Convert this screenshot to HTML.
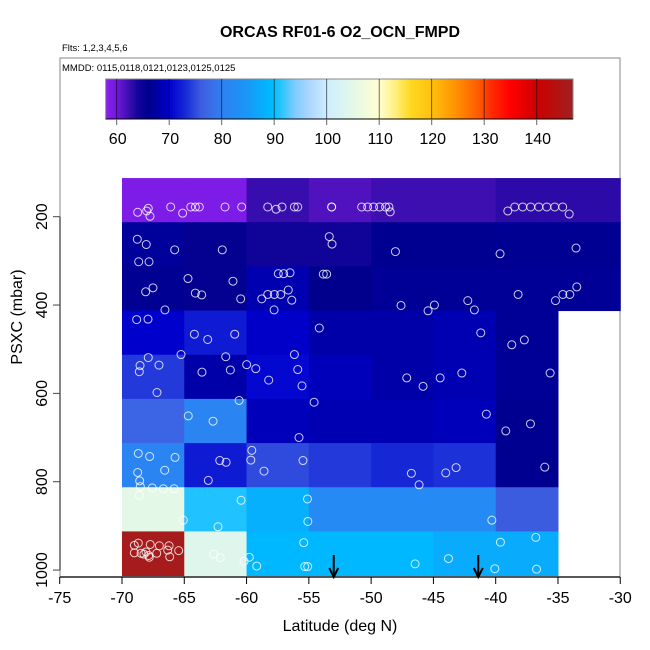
<!DOCTYPE html>
<html><head><meta charset="utf-8">
<style>
html,body{margin:0;padding:0;background:#fff;}
svg{display:block;font-family:"Liberation Sans",sans-serif;}
</style></head>
<body>
<svg id="chart" width="650" height="650" viewBox="0 0 650 650">
  <text x="340" y="37" text-anchor="middle" font-size="16" font-weight="bold">ORCAS RF01-6 O2_OCN_FMPD</text>
  <text x="62" y="51" font-size="9.5">Flts: 1,2,3,4,5,6</text>
  <rect x="60" y="58" width="560" height="519" fill="none" stroke="#999" stroke-width="1.2"/>
  <text x="62" y="71" font-size="9.5">MMDD: 0115,0118,0121,0123,0125,0125</text>
  <defs><linearGradient id="cbg" x1="0" x2="1" y1="0" y2="0"></linearGradient></defs>
  <g id="cells"></g>
  <g id="points"></g>
  <g id="arrows"></g>
  <g id="colorbar"></g>
  <g id="xaxis"></g>
  <g id="yaxis"></g>
  <text x="340" y="631" text-anchor="middle" font-size="16">Latitude (deg N)</text>
  <text transform="translate(22,317) rotate(-90)" text-anchor="middle" font-size="16">PSXC (mbar)</text>
</svg>
<script>
const xTicks=[-75,-70,-65,-60,-55,-50,-45,-40,-35,-30];
const yTicks=[200,400,600,800,1000];
const cbTicks=[60,70,80,90,100,110,120,130,140];
const colEdges=[-70,-65,-60,-55,-50,-45,-40,-35,-30];
const rowEdges=[112.5,212.5,312.5,412.5,512.5,612.5,712.5,812.5,912.5,1012.5];
const cellValues=[
 [59,59,62.5,61.5,62.3,62.3,63,63],
 [67,65.5,64.5,64.5,66.3,66.3,66.5,66.5],
 [66.5,65.5,68.5,66,66.8,66.8,66.8,66.8],
 [70,72,69.8,68,68,68.6,66.8,null],
 [74,68,70.5,69,68,68.6,66.8,null],
 [77,81,69,68.6,68.6,69,66.3,null],
 [81,72,75,74,73,73.5,66.3,null],
 [105,91,88,82,82,82,76,null],
 [146,104,89,89,89,87.5,87.5,null]];
const ptLat=[-68.74,-67.89,-68.02,-67.75,-66.09,-65.13,-64.48,-64.11,-63.79,-61.73,-60.39,-58.30,-57.63,-57.15,-56.16,-55.89,-53.17,-53.17,-50.76,-50.28,-49.80,-49.32,-48.84,-48.57,-48.47,-39.03,-38.47,-37.83,-37.19,-36.54,-35.90,-35.26,-34.62,-34.1,
-68.77,-68.05,-65.77,-68.66,-67.83,-61.95,-53.36,-53.14,-48.05,-39.65,-33.55,
-64.70,-61.09,-67.51,-68.10,-64.11,-63.60,-60.47,-66.55,-57.45,-57.02,-56.51,-53.84,-53.57,-56.65,-58.30,-57.77,-57.26,-58.78,-56.37,-57.79,-47.60,-45.43,-44.92,-42.24,-41.71,-38.20,-35.20,-34.61,-34.05,-33.49,
-68.82,-67.91,-64.19,-63.12,-60.95,-54.16,-41.20,-38.71,-37.70,
-67.89,-68.55,-68.61,-67.03,-65.26,-61.67,-63.58,-61.30,-59.99,-59.26,-56.16,-55.89,-67.19,-58.22,-55.55,-47.14,-45.83,-44.46,-42.72,-35.63,
-60.60,-64.68,-62.69,-54.58,-55.79,-40.75,-37.21,-39.19,
-68.69,-67.78,-65.74,-68.74,-66.57,-68.58,-68.53,-67.57,-66.68,-65.82,-62.15,-61.64,-63.07,-59.58,-59.66,-58.60,-55.47,-46.77,-46.15,-44.01,-43.18,-36.06,
-68.61,-60.44,-55.11,-65.08,-62.29,-55.08,-40.31,
-55.41,-39.62,-36.78,-62.64,-62.11,-59.78,-60.20,-59.18,-55.33,-55.09,-46.47,-43.79,-40.07,-36.72,
-69.01,-68.69,-67.73,-67.00,-66.22,-65.45,-69.01,-68.47,-68.07,-67.86,-67.81,-67.21,-66.33,-66.17,-68.24];
const ptP=[190,181,187,199,178,192,178,178,178,178,178,178,183,178,178,178,178,178,178,178,178,178,178,178,189,187,178,178,178,178,178,178,178,194,
251,263,275,302,302,275,245,262,279,284,271,
340,346,361,370,373,377,386,411,329,329,327,330,330,366,376,376,376,386,389,411,401,413,400,390,411,376,390,376,376,359,
433,432,466,478,466,452,463,490,479,
519,537,551,536,512,517,552,547,535,544,512,546,598,570,583,565,584,565,554,554,
616,651,663,620,700,647,669,685,
736,743,745,779,774,798,811,814,816,816,752,756,797,729,751,776,752,781,807,780,768,767,
831,842,839,887,902,890,887,
938,937,926,964,972,971,980,991,992,992,986,974,997,998,
944,939,942,945,945,956,961,962,959,967,971,962,955,970,964];
const arrowLat=[-53.0,-41.4];

const NS='http://www.w3.org/2000/svg';
function mk(tag,attrs,parent){const e=document.createElementNS(NS,tag);for(const k in attrs)e.setAttribute(k,attrs[k]);parent.appendChild(e);return e;}
const X0=59.7,XS=12.457; function xs(v){return X0+(v+75)*XS;}
const YS=0.4417; function ys(p){return 216.7+(p-200)*YS;}
const CB0=105.7,CBS=5.25; function cbx(v){return 116.7+(v-60)*CBS;}
const stops=[[57.9,'#8a20f0'],[60,'#7018dc'],[62,'#4410b4'],[64,'#14049c'],[66,'#00008c'],[68,'#0000a8'],[70,'#0000cd'],[73,'#1628d6'],[76,'#3c5ce0'],[78,'#3a6ee8'],[80,'#2e80f0'],[85,'#1898f8'],[89,'#00b8ff'],[90,'#00c0ff'],[94,'#80ccff'],[97,'#b0d8ff'],[100,'#cceeff'],[105,'#e4f8e8'],[110,'#ffffd0'],[113,'#fff080'],[116,'#ffd820'],[120,'#ffc010'],[125,'#ff8c00'],[129,'#ff5a00'],[131,'#ff3000'],[135,'#ff0000'],[140,'#cc0000'],[146.9,'#a02020']];
function hx(c){return [1,3,5].map(i=>parseInt(c.substr(i,2),16));}
function col(v){if(v<=stops[0][0])return stops[0][1];for(let i=1;i<stops.length;i++){if(v<=stops[i][0]){const a=stops[i-1],b=stops[i];const t=(v-a[0])/(b[0]-a[0]);const ca=hx(a[1]),cb=hx(b[1]);return 'rgb('+ca.map((x,j)=>Math.round(x+(cb[j]-x)*t)).join(',')+')';}}return stops[stops.length-1][1];}

// cells
const cg=document.getElementById('cells');
for(let r=0;r<cellValues.length;r++){for(let c=0;c<cellValues[r].length;c++){const v=cellValues[r][c];if(v==null)continue;
 const x1=xs(colEdges[c]),x2=xs(colEdges[c+1]),y1=ys(rowEdges[r]),y2=ys(rowEdges[r+1]);
 const e=mk('rect',{x:x1,y:y1,width:x2-x1+0.5,height:y2-y1+0.5,fill:col(v)},cg);
 
 }}
// points
const pg=document.getElementById('points');
for(let i=0;i<ptLat.length;i++){const e=mk('circle',{cx:xs(ptLat[i]),cy:ys(ptP[i]),r:4,fill:'none',stroke:'#fff','stroke-opacity':0.8,'stroke-width':1},pg);
 
 }
// arrows
const ag=document.getElementById('arrows');
arrowLat.forEach(a=>{const x=xs(a);const g=mk('g',{},ag);
 
 
 mk('line',{x1:x,y1:555,x2:x,y2:576,stroke:'#000','stroke-width':2},g);
 mk('path',{d:`M${x-4.5},${568} L${x},${577} L${x+4.5},${568}`,fill:'none',stroke:'#000','stroke-width':2},g);});
// colorbar
const cb=document.getElementById('colorbar');
const grad=document.getElementById('cbg');
const vmin=57.9,vmax=146.9;
stops.forEach(s=>{mk('stop',{offset:((s[0]-vmin)/(vmax-vmin)*100)+'%','stop-color':s[1]},grad);});
mk('rect',{x:CB0,y:79,width:573-CB0,height:40,fill:'url(#cbg)',stroke:'#888','stroke-width':1},cb);
mk('line',{x1:CB0,y1:119,x2:573,y2:119,stroke:'#000','stroke-width':1},cb);
cbTicks.forEach(t=>{const x=cbx(t);
 mk('line',{x1:x,y1:79,x2:x,y2:119,stroke:'#000','stroke-width':0.8,'stroke-opacity':0.7},cb);
 mk('line',{x1:x,y1:119,x2:x,y2:125,stroke:'#666','stroke-width':1},cb);
 const tx=mk('text',{x:x+1,y:144,'text-anchor':'middle','font-size':16},cb);tx.textContent=t;
 
 });
// x axis
const xg=document.getElementById('xaxis');
mk('line',{x1:60,y1:577,x2:620,y2:577,stroke:'#000','stroke-width':1.2},xg);
xTicks.forEach(t=>{const x=xs(t);mk('line',{x1:x,y1:577,x2:x,y2:584,stroke:'#000'},xg);
 const tx=mk('text',{x:x,y:603,'text-anchor':'middle','font-size':16},xg);tx.textContent=t;
 
 });
// y axis
const yg=document.getElementById('yaxis');
mk('line',{x1:60,y1:ys(200),x2:60,y2:ys(1000),stroke:'#444','stroke-width':1.2},yg);
yTicks.forEach(t=>{const y=ys(t);mk('line',{x1:53,y1:y,x2:60,y2:y,stroke:'#444'},yg);
 const tx=mk('text',{transform:`translate(47,${y}) rotate(-90)`,'text-anchor':'middle','font-size':16},yg);tx.textContent=t;
 
 });
</script>
</body></html>
